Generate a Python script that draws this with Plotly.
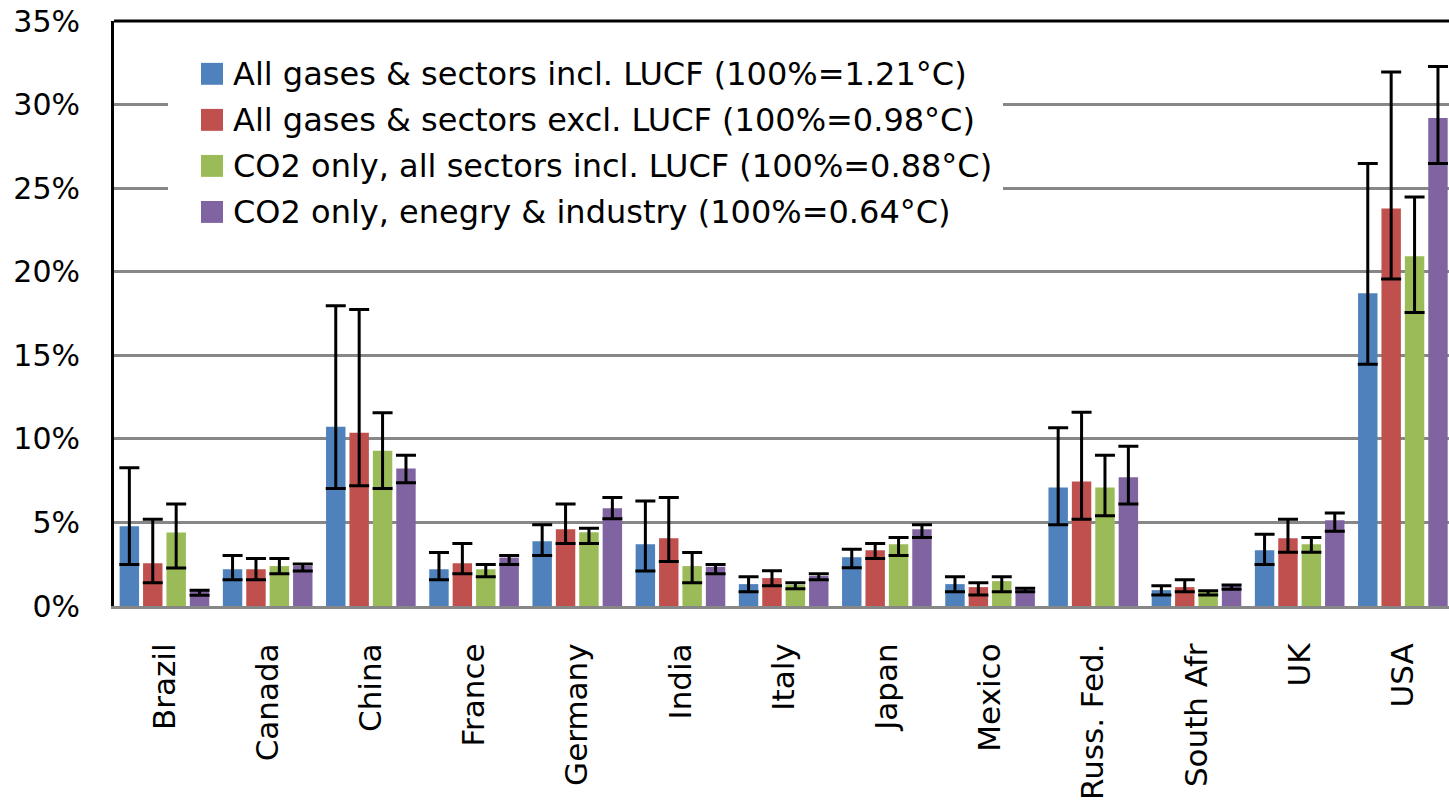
import plotly.graph_objects as go

countries = ["Brazil", "Canada", "China", "France", "Germany", "India", "Italy",
             "Japan", "Mexico", "Russ. Fed.", "South Afr", "UK", "USA"]

series_names = [
    "All gases & sectors incl. LUCF (100%=1.21°C)",
    "All gases & sectors excl. LUCF (100%=0.98°C)",
    "CO2 only, all sectors incl. LUCF (100%=0.88°C)",
    "CO2 only, enegry & industry (100%=0.64°C)",
]
colors = ["#4F81BD", "#C0504D", "#9BBB59", "#8064A2"]

# values in percent
incl_lucf = [4.78, 2.2, 10.73, 2.2, 3.88, 3.7, 1.31, 2.92, 1.31, 7.1, 0.95, 3.34, 18.72]
incl_lucf_hi = [8.27, 3.02, 17.98, 3.2, 4.86, 6.28, 1.75, 3.39, 1.75, 10.67, 1.21, 4.29, 26.49]
incl_lucf_lo = [2.48, 1.57, 7.04, 1.57, 3.03, 2.1, 0.85, 2.29, 0.85, 4.86, 0.66, 2.49, 14.47]

excl_lucf = [2.56, 2.2, 10.37, 2.56, 4.6, 4.05, 1.67, 3.34, 1.13, 7.45, 1.13, 4.05, 23.79]
excl_lucf_hi = [5.2, 2.84, 17.75, 3.74, 6.11, 6.49, 2.11, 3.74, 1.39, 11.6, 1.57, 5.2, 31.96]
excl_lucf_lo = [1.39, 1.57, 7.2, 1.93, 3.74, 2.66, 1.21, 2.85, 0.66, 5.2, 0.85, 3.22, 19.58]

co2_all = [4.4, 2.39, 9.3, 2.2, 4.42, 2.39, 1.27, 3.7, 1.49, 7.1, 0.88, 3.7, 20.93]
co2_all_hi = [6.1, 2.84, 11.57, 2.49, 4.66, 3.21, 1.39, 4.1, 1.75, 9.02, 0.92, 4.1, 24.49]
co2_all_lo = [2.28, 1.93, 7.04, 1.75, 3.74, 1.39, 1.03, 3.03, 0.85, 5.4, 0.66, 3.22, 17.57]

co2_ei = [0.9, 2.4, 8.23, 2.9, 5.85, 2.35, 1.8, 4.59, 1.0, 7.71, 1.2, 5.13, 29.22]
co2_ei_hi = [0.94, 2.52, 9.02, 3.02, 6.49, 2.49, 1.93, 4.86, 1.06, 9.56, 1.25, 5.56, 32.3]
co2_ei_lo = [0.64, 2.1, 7.38, 2.49, 5.22, 1.93, 1.57, 4.1, 0.85, 6.11, 1.0, 4.47, 26.49]

y_ticks = [0, 5, 10, 15, 20, 25, 30, 35]

series = [
    (incl_lucf, incl_lucf_hi, incl_lucf_lo),
    (excl_lucf, excl_lucf_hi, excl_lucf_lo),
    (co2_all, co2_all_hi, co2_all_lo),
    (co2_ei, co2_ei_hi, co2_ei_lo),
]

FONT = "DejaVu Sans"
W, H = 1449, 800
L, R, T, B = 114, 1449, 21, 608  # plot area in pixels

fig = go.Figure()
for (vals, hi, lo), name, col in zip(series, series_names, colors):
    fig.add_trace(go.Bar(
        x=countries, y=vals, name=name, marker=dict(color=col, line=dict(width=0)),
        showlegend=False,
        error_y=dict(type="data", symmetric=False,
                     array=[h - v for h, v in zip(hi, vals)],
                     arrayminus=[v - l for v, l in zip(vals, lo)],
                     color="black", thickness=3, width=10),
    ))

def px_x(p):
    return (p - L) / (R - L)

def px_y(p):
    return (B - p) / (B - T)

shapes = []
# top border
shapes.append(dict(type="line", xref="paper", yref="paper", x0=0, x1=1, y0=1, y1=1,
                   line=dict(color="black", width=3), layer="above"))
# legend background
shapes.append(dict(type="rect", xref="paper", yref="paper",
                   x0=px_x(168), x1=px_x(1003), y0=px_y(242), y1=px_y(32),
                   fillcolor="white", line=dict(width=0), layer="above"))
annotations = []
for i, (name, col) in enumerate(zip(series_names, colors)):
    cy = 74 + 46.2 * i
    shapes.append(dict(type="rect", xref="paper", yref="paper",
                       x0=px_x(201), x1=px_x(223), y0=px_y(cy + 11), y1=px_y(cy - 11),
                       fillcolor=col, line=dict(width=0), layer="above"))
    annotations.append(dict(xref="paper", yref="paper", x=px_x(231), y=px_y(cy),
                            text=name, showarrow=False, xanchor="left", yanchor="middle",
                            font=dict(family=FONT, size=32, color="black")))

fig.update_layout(
    width=W, height=H,
    margin=dict(l=L, r=W - R, t=T, b=H - B, pad=0),
    paper_bgcolor="white", plot_bgcolor="white",
    barmode="group", bargap=0.093, bargroupgap=0.17,
    font=dict(family=FONT, color="black"),
    shapes=shapes, annotations=annotations,
    showlegend=False,
    xaxis=dict(
        range=[-0.489, 12.447], showline=True, linecolor="#878787", linewidth=3,
        showgrid=False, tickangle=-90, ticks="", ticklabelstandoff=22,
        tickfont=dict(family=FONT, size=31, color="black"),
    ),
    yaxis=dict(
        range=[0, 35.02], tickvals=y_ticks, ticktext=[f"{v}%" for v in y_ticks],
        showline=True, linecolor="black", linewidth=3,
        showgrid=True, gridcolor="#878787", gridwidth=2.5, zeroline=False,
        ticks="", ticklabelstandoff=25,
        tickfont=dict(family=FONT, size=30, color="black"),
    ),
)

fig.write_html("out.html", config={"displayModeBar": False},
               post_script="document.body.style.margin='0';document.body.style.overflow='hidden';")
